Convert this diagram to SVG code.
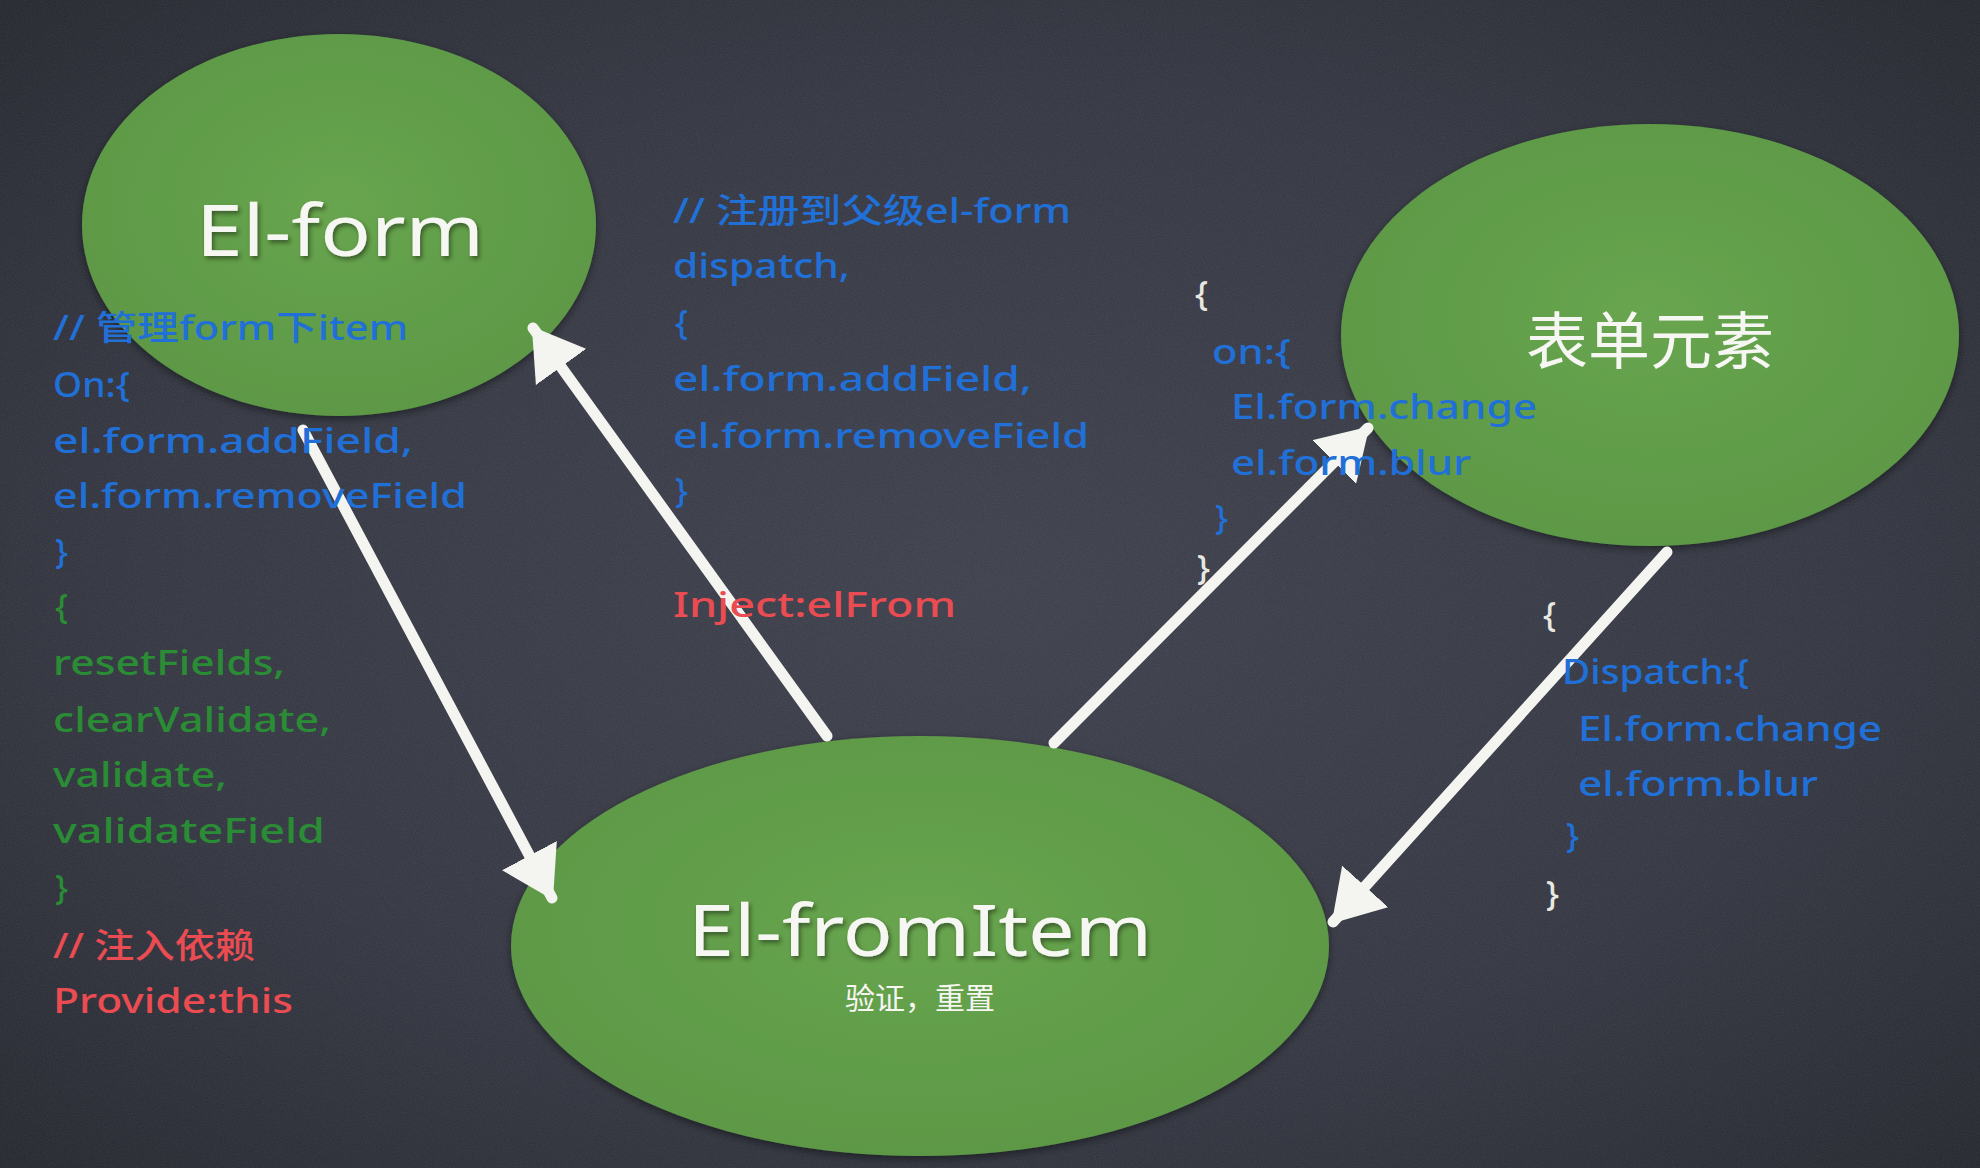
<svg xmlns="http://www.w3.org/2000/svg" width="1980" height="1168" viewBox="0 0 1980 1168">
  <defs>
    <radialGradient id="bg" cx="50%" cy="50%" r="70%">
      <stop offset="0" stop-color="#3b3e4a"/>
      <stop offset="0.6" stop-color="#31343f"/>
      <stop offset="1" stop-color="#23252d"/>
    </radialGradient>
    <radialGradient id="green" cx="50%" cy="45%" r="60%">
      <stop offset="0" stop-color="#68a54f"/>
      <stop offset="1" stop-color="#5c9745"/>
    </radialGradient>
    <filter id="grain" x="0" y="0" width="100%" height="100%">
      <feTurbulence type="fractalNoise" baseFrequency="0.9" numOctaves="2" seed="3" result="n"/>
      <feColorMatrix type="matrix" values="0 0 0 0 1  0 0 0 0 1  0 0 0 0 1  0 0 0 0.09 0"/>
    </filter>
    <filter id="shadow" x="-10%" y="-10%" width="120%" height="120%">
      <feDropShadow dx="0" dy="3" stdDeviation="4" flood-color="#000" flood-opacity="0.45"/>
    </filter>
    <filter id="tshadow" x="-10%" y="-20%" width="120%" height="140%">
      <feDropShadow dx="2" dy="3" stdDeviation="2" flood-color="#1d2a16" flood-opacity="0.6"/>
    </filter>
    <marker id="head" viewBox="0 0 50 62" refX="48" refY="31" markerWidth="50" markerHeight="62" markerUnits="userSpaceOnUse" orient="auto">
      <path d="M0,0 L50,31 L0,62 Z" fill="#f4f4f0"/>
    </marker>
    <style>
      .node { fill: url(#green); filter: url(#shadow); }
      .title { font-family: "Noto Sans", "Noto Sans CJK SC", sans-serif; fill: #f6f6f2; }
      .code { font-family: "Noto Sans", "Noto Sans CJK SC", sans-serif; font-size: 34px; font-weight: 500; }
      .blue { fill: #2070d8; }
      .green { fill: #2a8c34; }
      .red { fill: #ea4c52; }
      .chalk { fill: #e8e8e2; }
      .arrow { stroke: #f4f4f0; stroke-width: 11; stroke-linecap: round; fill: none; marker-end: url(#head); }
    </style>
  </defs>

  <rect x="0" y="0" width="1980" height="1168" fill="url(#bg)"/>
  <rect x="0" y="0" width="1980" height="1168" filter="url(#grain)"/>

  <g id="node-el-form">
    <ellipse class="node" cx="339" cy="225" rx="257" ry="191"/>
    <text class="title" x="196" y="256" font-size="72" textLength="288" lengthAdjust="spacingAndGlyphs" filter="url(#tshadow)">El-form</text>
  </g>

  <g id="node-form-element">
    <ellipse class="node" cx="1650" cy="335" rx="309" ry="211"/>
    <text class="title" x="1650" y="364" font-size="62" text-anchor="middle">表单元素</text>
  </g>

  <g id="node-el-fromitem">
    <ellipse class="node" cx="920" cy="946" rx="409" ry="210"/>
    <text class="title" x="688" y="956" font-size="72" textLength="464" lengthAdjust="spacingAndGlyphs" filter="url(#tshadow)">El-fromItem</text>
    <text class="title" x="920" y="1009" font-size="30" text-anchor="middle">验证，重置</text>
  </g>

  <g id="connectors">
    <line class="arrow" x1="303" y1="430" x2="552" y2="898"/>
    <line class="arrow" x1="827" y1="736" x2="533" y2="328"/>
    <line class="arrow" x1="1054" y1="743" x2="1368" y2="428"/>
    <line class="arrow" x1="1667" y1="552" x2="1333" y2="922"/>
  </g>

  <g id="label-el-form">
    <text class="code blue" x="53" y="340" textLength="355" lengthAdjust="spacingAndGlyphs">// 管理form下item</text>
    <text class="code blue" x="53" y="397" textLength="77" lengthAdjust="spacingAndGlyphs">On:{</text>
    <text class="code blue" x="53" y="453" textLength="360" lengthAdjust="spacingAndGlyphs">el.form.addField,</text>
    <text class="code blue" x="53" y="508" textLength="414" lengthAdjust="spacingAndGlyphs">el.form.removeField</text>
    <text class="code blue" x="55" y="564">}</text>
    <text class="code green" x="55" y="619">{</text>
    <text class="code green" x="53" y="675" textLength="232" lengthAdjust="spacingAndGlyphs">resetFields,</text>
    <text class="code green" x="53" y="732" textLength="278" lengthAdjust="spacingAndGlyphs">clearValidate,</text>
    <text class="code green" x="53" y="787" textLength="174" lengthAdjust="spacingAndGlyphs">validate,</text>
    <text class="code green" x="53" y="843" textLength="272" lengthAdjust="spacingAndGlyphs">validateField</text>
    <text class="code green" x="55" y="900">}</text>
    <text class="code red" x="53" y="958" textLength="202" lengthAdjust="spacingAndGlyphs">// 注入依赖</text>
    <text class="code red" x="53" y="1013" textLength="240" lengthAdjust="spacingAndGlyphs">Provide:this</text>
  </g>

  <g id="label-register">
    <text class="code blue" x="673" y="223" textLength="398" lengthAdjust="spacingAndGlyphs">// 注册到父级el-form</text>
    <text class="code blue" x="673" y="278" textLength="177" lengthAdjust="spacingAndGlyphs">dispatch,</text>
    <text class="code blue" x="675" y="335">{</text>
    <text class="code blue" x="673" y="391" textLength="359" lengthAdjust="spacingAndGlyphs">el.form.addField,</text>
    <text class="code blue" x="673" y="448" textLength="416" lengthAdjust="spacingAndGlyphs">el.form.removeField</text>
    <text class="code blue" x="675" y="503">}</text>
    <text class="code red" x="673" y="617" textLength="283" lengthAdjust="spacingAndGlyphs">Inject:elFrom</text>
  </g>

  <g id="label-on">
    <text class="code chalk" x="1195" y="306">{</text>
    <text class="code blue" x="1212" y="364" textLength="79" lengthAdjust="spacingAndGlyphs">on:{</text>
    <text class="code blue" x="1231" y="419" textLength="306" lengthAdjust="spacingAndGlyphs">El.form.change</text>
    <text class="code blue" x="1231" y="475" textLength="240" lengthAdjust="spacingAndGlyphs">el.form.blur</text>
    <text class="code blue" x="1215" y="530">}</text>
    <text class="code chalk" x="1197" y="580">}</text>
  </g>

  <g id="label-dispatch">
    <text class="code chalk" x="1543" y="627">{</text>
    <text class="code blue" x="1562" y="684" textLength="187" lengthAdjust="spacingAndGlyphs">Dispatch:{</text>
    <text class="code blue" x="1578" y="741" textLength="304" lengthAdjust="spacingAndGlyphs">El.form.change</text>
    <text class="code blue" x="1578" y="796" textLength="240" lengthAdjust="spacingAndGlyphs">el.form.blur</text>
    <text class="code blue" x="1566" y="848">}</text>
    <text class="code chalk" x="1546" y="906">}</text>
  </g>
</svg>
